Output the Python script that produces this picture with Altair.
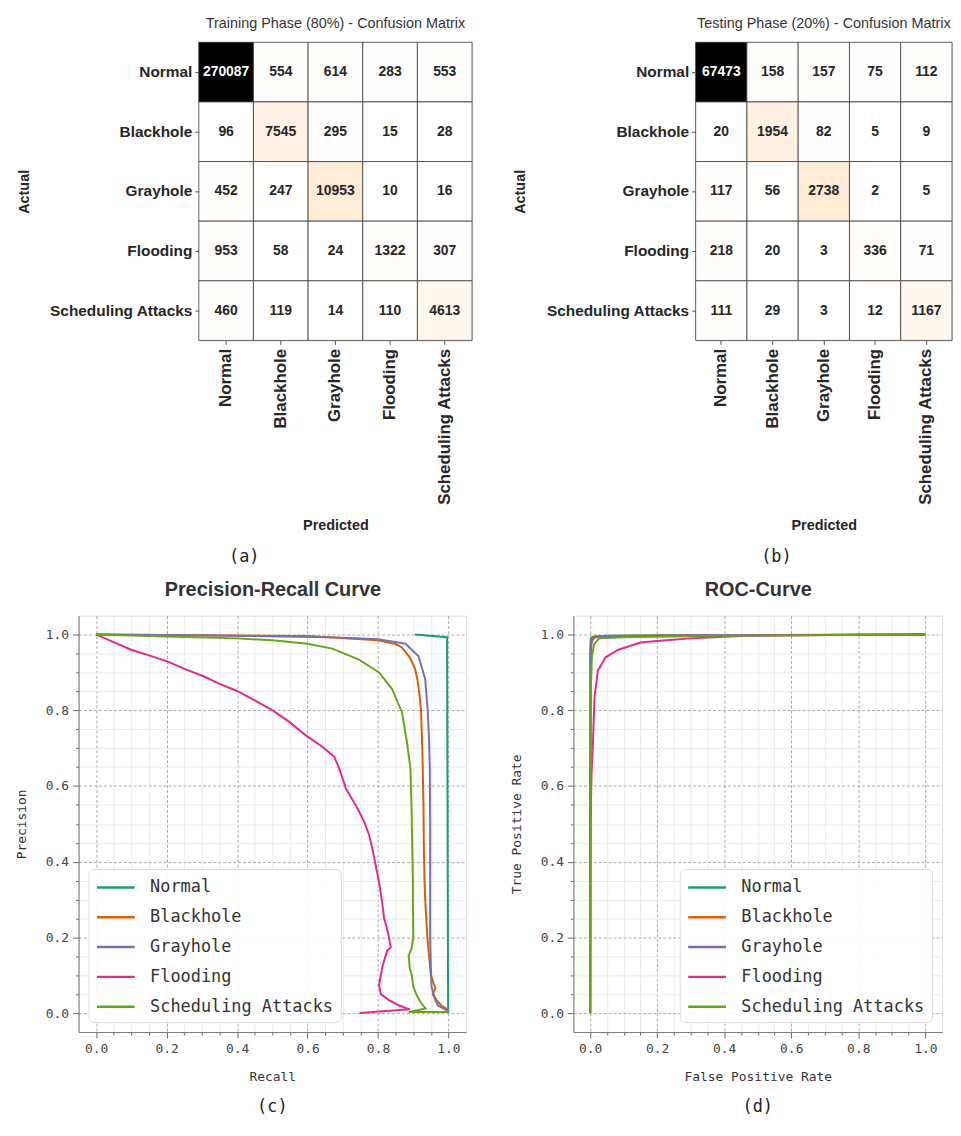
import altair as alt
import pandas as pd

# ---------------- data ----------------
classes = ["Normal", "Blackhole", "Grayhole", "Flooding", "Scheduling Attacks"]
palette = ["#1b9e77", "#d95f02", "#7570b3", "#e7298a", "#66a61e"]

train_cm = [
    [270087, 554, 614, 283, 553],
    [96, 7545, 295, 15, 28],
    [452, 247, 10953, 10, 16],
    [953, 58, 24, 1322, 307],
    [460, 119, 14, 110, 4613],
]
test_cm = [
    [67473, 158, 157, 75, 112],
    [20, 1954, 82, 5, 9],
    [117, 56, 2738, 2, 5],
    [218, 20, 3, 336, 71],
    [111, 29, 3, 12, 1167],
]

# Precision-Recall curves (recall, precision)
pr_normal_r = [0.905, 0.996, 0.998, 0.999]
pr_normal_p = [1.0, 0.993, 0.3, 0.0]
pr_black_r = [0.0, 0.3, 0.6, 0.8, 0.85, 0.868, 0.89, 0.905, 0.912, 0.918, 0.922, 0.925, 0.927,
              0.929, 0.93, 0.932, 0.934, 0.937, 0.94, 0.945, 0.95, 0.963, 0.955, 0.97, 0.98, 1.0]
pr_black_p = [1.0, 0.998, 0.996, 0.985, 0.975, 0.966, 0.94, 0.91, 0.88, 0.84, 0.80, 0.72, 0.646,
              0.55, 0.45, 0.35, 0.297, 0.25, 0.2, 0.15, 0.1, 0.065, 0.05, 0.03, 0.02, 0.008]
pr_gray_r = [0.0, 0.4, 0.7, 0.8, 0.878, 0.915, 0.934, 0.941, 0.945, 0.947, 0.948, 0.948, 0.948,
             0.95, 0.952, 0.96, 0.97, 0.99, 1.0]
pr_gray_p = [1.0, 0.997, 0.992, 0.988, 0.976, 0.943, 0.882, 0.80, 0.72, 0.646, 0.5, 0.3, 0.2,
             0.12, 0.07, 0.04, 0.02, 0.01, 0.005]
pr_flood_r = [0.0, 0.05, 0.099, 0.15, 0.2, 0.254, 0.305, 0.35, 0.4, 0.45, 0.502, 0.55, 0.596, 0.64,
              0.676, 0.69, 0.709, 0.73, 0.746, 0.763, 0.775, 0.785, 0.793, 0.80, 0.807, 0.812,
              0.817, 0.825, 0.831, 0.836, 0.826, 0.812, 0.803, 0.808, 0.83, 0.86, 0.89, 0.748]
pr_flood_p = [1.0, 0.98, 0.96, 0.945, 0.93, 0.908, 0.89, 0.87, 0.851, 0.826, 0.799, 0.768, 0.733,
              0.705, 0.677, 0.646, 0.593, 0.56, 0.533, 0.50, 0.47, 0.43, 0.392, 0.36, 0.323, 0.29,
              0.252, 0.225, 0.20, 0.173, 0.165, 0.121, 0.073, 0.05, 0.035, 0.02, 0.01, 0.0]
pr_sched_r = [0.0, 0.2, 0.4, 0.5, 0.6, 0.67, 0.746, 0.803, 0.84, 0.868, 0.882, 0.892, 0.895, 0.897,
              0.899, 0.899, 0.90, 0.895, 0.887, 0.89, 0.896, 0.90, 0.91, 0.92, 0.935, 0.887, 1.0]
pr_sched_p = [1.0, 0.995, 0.99, 0.985, 0.976, 0.963, 0.934, 0.90, 0.856, 0.795, 0.717, 0.646, 0.55,
              0.45, 0.35, 0.297, 0.2, 0.17, 0.152, 0.12, 0.10, 0.07, 0.047, 0.03, 0.012, 0.003, 0.003]

# ROC curves (fpr, tpr)
roc_normal_f = [0.0, 0.0005, 0.002, 0.01, 0.05, 0.2, 1.0]
roc_normal_t = [0.0, 0.97, 0.99, 0.995, 0.997, 0.998, 1.0]
roc_black_f = [0.0, 0.001, 0.004, 0.01, 0.05, 0.3, 1.0]
roc_black_t = [0.0, 0.95, 0.985, 0.993, 0.996, 0.998, 1.0]
roc_gray_f = [0.0, 0.001, 0.004, 0.012, 0.05, 0.3, 1.0]
roc_gray_t = [0.0, 0.93, 0.98, 0.992, 0.995, 0.998, 1.0]
roc_flood_f = [0.0, 0.0, 0.004, 0.0085, 0.013, 0.023, 0.046, 0.084, 0.15, 0.207, 0.3, 0.45, 0.7, 1.0]
roc_flood_t = [0.0, 0.45, 0.63, 0.72, 0.835, 0.905, 0.94, 0.96, 0.979, 0.984, 0.99, 0.996, 0.999, 1.0]
roc_sched_f = [0.0, 0.002, 0.005, 0.012, 0.027, 0.1, 0.4, 1.0]
roc_sched_t = [0.0, 0.85, 0.94, 0.975, 0.99, 0.993, 0.997, 1.0]

# ---------------- helpers ----------------
SANS = "Liberation Sans"
MONO = "DejaVu Sans Mono"


def cm_frame(cm):
    rows = []
    for i, a in enumerate(classes):
        for j, p in enumerate(classes):
            rows.append({"Actual": a, "Predicted": p, "count": cm[i][j]})
    return pd.DataFrame(rows)


def heatmap(cm, title, w):
    df = cm_frame(cm)
    m = max(max(r) for r in cm)
    base = alt.Chart(df).encode(
        x=alt.X("Predicted:N", sort=classes,
                axis=alt.Axis(title="Predicted", labelAngle=270, labelFont=SANS, labelFontWeight="bold",
                              labelFontSize=17, labelColor="#262626", titleFont=SANS, titleFontWeight="bold",
                              titleFontSize=14.5, titleColor="#262626", titlePadding=14, domain=False,
                              tickColor="#555", tickSize=4, labelPadding=4, labelLimit=0)),
        y=alt.Y("Actual:N", sort=classes,
                axis=alt.Axis(title="Actual", labelFont=SANS, labelFontWeight="bold", labelFontSize=15.5,
                              labelColor="#262626", titleFont=SANS, titleFontWeight="bold", titleFontSize=14.5,
                              titleColor="#262626", titlePadding=18, domain=False, tickColor="#555",
                              tickSize=4, labelPadding=3, labelLimit=0)),
    )
    rect = base.mark_rect(stroke="#3a3a3a", strokeWidth=0.8).encode(
        color=alt.Color("count:Q", legend=None,
                        scale=alt.Scale(domain=[0, m * 0.25, m / 3, m * 0.5, m],
                                        range=["#ffffff", "#ff8000", "#ff5500", "#bf0000", "#000000"],
                                        interpolate="rgb", clamp=True))
    )
    text = base.mark_text(font=SANS, fontWeight="bold", fontSize=14).encode(
        text=alt.Text("count:Q", format="d"),
        color=alt.condition(alt.datum.count > m * 0.5, alt.value("white"), alt.value("#262626")),
    )
    return alt.layer(rect, text).properties(
        width=w, height=300,
        title=alt.TitleParams(title, font=SANS, fontSize=14.5, fontWeight="normal", color="#333", offset=10),
    )


def curve_frame(series):
    rows = []
    for name, xs, ys in series:
        for k, (xv, yv) in enumerate(zip(xs, ys)):
            rows.append({"cls": name, "xv": xv, "yv": yv, "ord": k})
    return pd.DataFrame(rows)


MAJ = "abs(datum.value*5 - round(datum.value*5)) < 0.001"
ticks = [round(i * 0.05, 2) for i in range(21)]
unit_scale = alt.Scale(domain=[-0.05, 1.05], nice=False, zero=False)


def lin_axis(title, title_pad, label_pad):
    return alt.Axis(
        title=title, values=ticks,
        labelExpr=f"{MAJ} ? format(datum.value, '.1f') : ''",
        labelOverlap=False, labelFont=MONO, labelFontSize=13, labelColor="#444",
        titleFont=MONO, titleFontSize=13, titleFontWeight="normal", titleColor="#333",
        grid=True,
        gridColor={"condition": {"test": MAJ, "value": "#a8a8a8"}, "value": "#ebebeb"},
        gridDash={"condition": {"test": MAJ, "value": [3, 2]}, "value": []},
        gridWidth=1,
        tickSize={"condition": {"test": MAJ, "value": 6}, "value": 3},
        tickColor="#666", domainColor="#777", labelPadding=label_pad, titlePadding=title_pad,
    )


def curve_chart(series, xtitle, ytitle, title, cap, legend_orient, w):
    df = curve_frame(series)
    lines = alt.Chart(df).mark_line(strokeWidth=2, clip=True).encode(
        x=alt.X("xv:Q", scale=unit_scale, axis=lin_axis(xtitle, 15, 5)),
        y=alt.Y("yv:Q", scale=unit_scale, axis=lin_axis(ytitle, 17, 4)),
        color=alt.Color("cls:N", scale=alt.Scale(domain=classes, range=palette),
                        legend=alt.Legend(title=None, orient=legend_orient, offset=10,
                                          labelFont=MONO, labelFontSize=17, labelColor="#333", labelLimit=0,
                                          symbolType="M-1.9,0H1.9", symbolSize=400, symbolStrokeWidth=2.5,
                                          symbolOffset=9, labelOffset=23, rowPadding=10, padding=7,
                                          fillColor="rgba(255,255,255,0.9)", strokeColor="#dddddd",
                                          cornerRadius=5)),
        order="ord:Q",
    )
    # top axis that carries the panel heading
    head = alt.Chart(df).mark_point(opacity=0).encode(
        x=alt.X("xv:Q", scale=unit_scale,
                axis=alt.Axis(orient="top", title=title, labels=False, ticks=False, domain=False, grid=False,
                              titleFont=SANS, titleFontSize=20, titleFontWeight="bold", titleColor="#333",
                              titlePadding=16)),
    )
    return alt.layer(lines, head).resolve_axis(x="independent").properties(
        width=w, height=419,
        title=alt.TitleParams(cap, orient="bottom", anchor="middle", font=MONO, fontSize=17,
                              fontWeight="normal", color="#222", offset=15),
    )


def caption(chart, text, dx):
    return alt.vconcat(chart, title=alt.TitleParams(text, orient="bottom", anchor="middle", dx=dx, font=MONO,
                                                     fontSize=17, fontWeight="normal", color="#222",
                                                     offset=16))


def spacer():
    return alt.Chart(pd.DataFrame({"s": [0]})).mark_point(opacity=0).encode(
        x=alt.X("s:Q", axis=None), y=alt.Y("s:Q", axis=None)
    ).properties(width=1, height=1, view=alt.ViewBackground(strokeOpacity=0))


train = caption(heatmap(train_cm, "Training Phase (80%) - Confusion Matrix", 275), "(a)", 0)
test = caption(heatmap(test_cm, "Testing Phase (20%) - Confusion Matrix", 258), "(b)", 44)

pr = curve_chart([
    ("Normal", pr_normal_r, pr_normal_p),
    ("Blackhole", pr_black_r, pr_black_p),
    ("Grayhole", pr_gray_r, pr_gray_p),
    ("Flooding", pr_flood_r, pr_flood_p),
    ("Scheduling Attacks", pr_sched_r, pr_sched_p),
], "Recall", "Precision", "Precision-Recall Curve", "(c)", "bottom-left", 390)

roc = curve_chart([
    ("Normal", roc_normal_f, roc_normal_t),
    ("Blackhole", roc_black_f, roc_black_t),
    ("Grayhole", roc_gray_f, roc_gray_t),
    ("Flooding", roc_flood_f, roc_flood_t),
    ("Scheduling Attacks", roc_sched_f, roc_sched_t),
], "False Positive Rate", "True Positive Rate", "ROC-Curve", "(d)", "bottom-right", 371)

top_pair = alt.hconcat(train, test, spacing=39).resolve_scale(color="independent")
bottom_pair = alt.hconcat(pr, roc, spacing=43).resolve_scale(color="independent").resolve_legend(
    color="independent")

top = alt.hconcat(spacer(), top_pair, spacing=0).resolve_scale(color="independent")
bottom = alt.hconcat(spacer(), bottom_pair, spacing=0).resolve_scale(color="independent").resolve_legend(
    color="independent")

chart = alt.vconcat(top, bottom, spacing=14).resolve_scale(color="independent").resolve_legend(
    color="independent").properties(
    padding={"left": 0, "top": 4, "right": 0, "bottom": 0}
).configure_view(stroke="#cccccc").configure(background="white")

chart.save("out.html", embed_options={"renderer": "svg", "actions": False})
